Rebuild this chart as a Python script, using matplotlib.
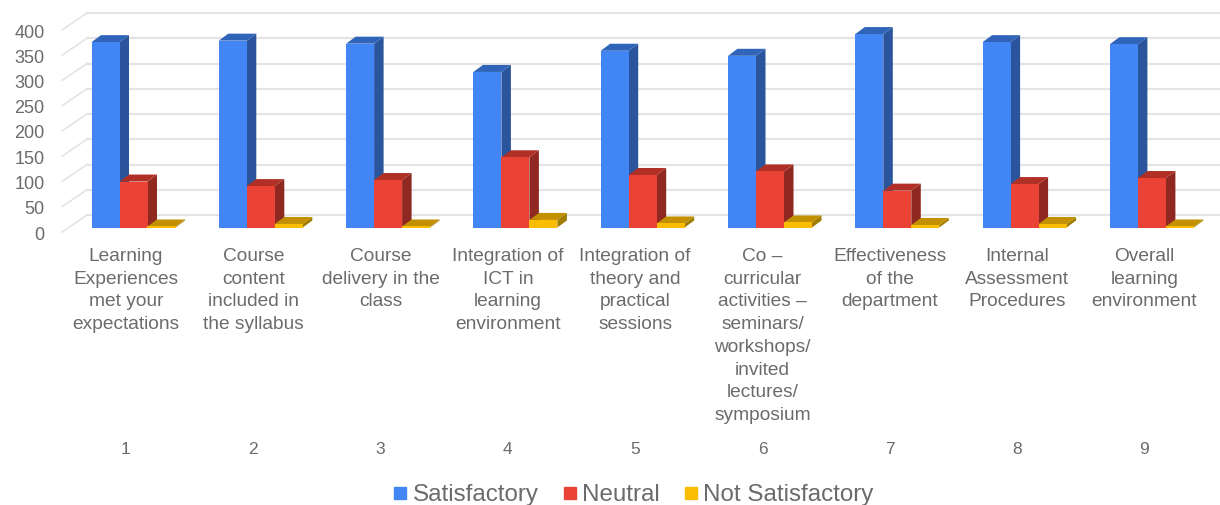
import numpy as np
import matplotlib
matplotlib.use('Agg')
import matplotlib.pyplot as plt
from matplotlib.lines import Line2D

plt.rcParams['font.family'] = ['Liberation Sans', 'DejaVu Sans']

###### dados ######
numeros = ['1', '2', '3', '4', '5', '6', '7', '8', '9']
rotulos = ['Learning\nExperiences\nmet your\nexpectations',
           'Course\ncontent\nincluded in\nthe syllabus',
           'Course\ndelivery in the\nclass',
           'Integration of\nICT in\nlearning\nenvironment',
           'Integration of\ntheory and\npractical\nsessions',
           'Co \u2013\ncurricular\nactivities \u2013\nseminars/\nworkshops/\ninvited\nlectures/\nsymposium',
           'Effectiveness\nof the\ndepartment',
           'Internal\nAssessment\nProcedures',
           'Overall\nlearning\nenvironment']
satisfatorio = [367, 370, 364, 308, 350, 340, 383, 367, 363]
neutro = [91, 82, 94, 139, 104, 111, 73, 86, 98]
nao_satisfatorio = [2, 7, 2, 15, 8, 10, 5, 7, 2]
ticks_y = [0, 50, 100, 150, 200, 250, 300, 350, 400]

###### cores: frente, lado, topo ######
azul = ('#4285f4', '#2a559c', '#2f64b9')
vermelho = ('#ea4335', '#8f2820', '#b13026')
amarelo = ('#fbbc04', '#a07c00', '#c29000')
cor_texto = '#6b6b6b'
cor_grade = '#e4e4e4'

###### escalas em pixels ######
px_x = 127.3
px_y = 0.505
W, H = 1220, 505
y0 = 232


def dx(px):
    return px / px_x


def dy(px):
    return px / px_y


fig = plt.figure(figsize=(W / 100, H / 100), dpi=100)
ax = fig.add_axes([0, 0, 1, 1])
ax.set_xlim(1 - 126 / px_x, 1 + (W - 126) / px_x)
ax.set_ylim((y0 - H) / px_y, y0 / px_y)
ax.axis('off')

###### grade ######
x_ini = 1 - dx(64)
fundo_x, fundo_y = dx(25), dy(17)
for t in ticks_y:
    ax.plot([x_ini, x_ini + fundo_x], [t, t + fundo_y], color=cor_grade, lw=1.2, zorder=1)
    ax.plot([x_ini + fundo_x, ax.get_xlim()[1]], [t + fundo_y, t + fundo_y], color=cor_grade, lw=1.6, zorder=1)
    ax.text(x_ini - dx(17.5), t - dy(3), str(t), ha='right', va='center', fontsize=13, color=cor_texto)


###### barra 3D ######
def barra(x, v, cores):
    w = dx(28)
    b = dy(4.5)
    px, py = dx(9.5), dy(7)
    ax.fill([x + w, x + w + px, x + w + px, x + w], [b, b + py, b + v + py, b + v], color=cores[1], lw=0, zorder=2)
    ax.fill([x, x + px, x + w + px, x + w], [b + v, b + v + py, b + v + py, b + v], color=cores[2], lw=0, zorder=2)
    ax.fill([x, x + w, x + w, x], [b, b, b + v, b + v], color=cores[0], lw=0, zorder=2)


for i in range(len(numeros)):
    x = i + 1 - dx(34.5)
    barra(x, satisfatorio[i], azul)
    barra(x + dx(28), neutro[i], vermelho)
    barra(x + dx(56), nao_satisfatorio[i], amarelo)

###### textos do eixo x ######
for i in range(len(numeros)):
    ax.text(i + 1, dy(y0 - 248), rotulos[i], ha='center', va='top', fontsize=13.8,
            color=cor_texto, linespacing=1.44)
    ax.text(i + 1, dy(y0 - 449), numeros[i], ha='center', va='center', fontsize=12.5, color=cor_texto)

###### legenda ######
handles = [Line2D([], [], ls='none', marker='s', ms=9, color=c[0]) for c in (azul, vermelho, amarelo)]
fig.legend(handles, ['Satisfactory', 'Neutral', 'Not Satisfactory'], loc='center',
           bbox_to_anchor=(631.5 / W, 1 - 495 / H), ncol=3, frameon=False, fontsize=17.4,
           labelcolor=cor_texto, handletextpad=0.05, columnspacing=0.85, handlelength=0.9)

fig.savefig('out.png', dpi=100)
